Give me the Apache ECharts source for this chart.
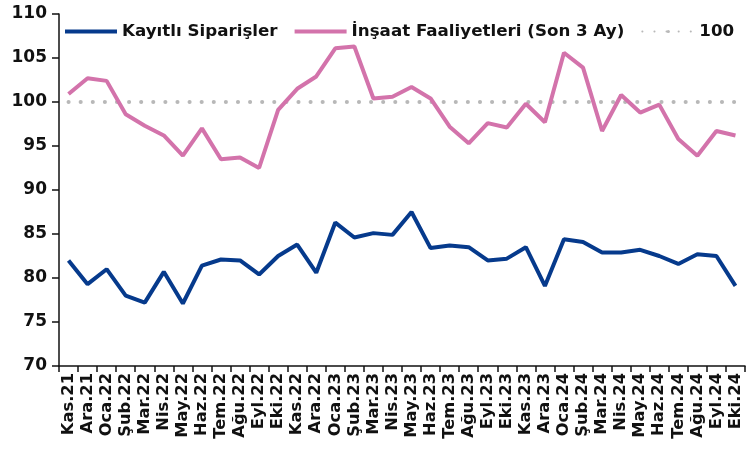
<!DOCTYPE html>
<html><head><meta charset="utf-8">
<script src="https://cdn.jsdelivr.net/npm/echarts@6/dist/echarts.min.js"></script>
<style>html,body{margin:0;padding:0;background:#fff}#c{width:747px;height:450px}</style>
</head><body><div id="c"></div>
<script>
const categories = ["Kas.21","Ara.21","Oca.22","Şub.22","Mar.22","Nis.22","May.22","Haz.22","Tem.22","Ağu.22","Eyl.22","Eki.22","Kas.22","Ara.22","Oca.23","Şub.23","Mar.23","Nis.23","May.23","Haz.23","Tem.23","Ağu.23","Eyl.23","Eki.23","Kas.23","Ara.23","Oca.24","Şub.24","Mar.24","Nis.24","May.24","Haz.24","Tem.24","Ağu.24","Eyl.24","Eki.24"];
const kayitliSiparisler = [82.0,79.3,81.0,78.0,77.2,80.7,77.1,81.4,82.1,82.0,80.4,82.5,83.8,80.6,86.3,84.6,85.1,84.9,87.5,83.4,83.7,83.5,82.0,82.2,83.5,79.1,84.4,84.1,82.9,82.9,83.2,82.5,81.6,82.7,82.5,79.1];
const insaatFaaliyetleri = [100.9,102.7,102.4,98.6,97.3,96.2,93.9,97.0,93.5,93.7,92.5,99.1,101.5,102.9,106.1,106.3,100.4,100.6,101.7,100.4,97.2,95.3,97.6,97.1,99.8,97.7,105.6,103.9,96.7,100.8,98.8,99.7,95.8,93.9,96.7,96.2];
const referans100 = [100,100,100,100,100,100,100,100,100,100,100,100,100,100,100,100,100,100,100,100,100,100,100,100,100,100,100,100,100,100,100,100,100,100,100,100];
const yTicks = {min:70, max:110, interval:5};

const FONT = 'DejaVu Sans';
const chart = echarts.init(document.getElementById('c'));
chart.setOption({
  animation:false,
  textStyle:{fontFamily:FONT},
  legend:{
    top:18, left:60, itemGap:17, itemWidth:52, itemHeight:4,
    textStyle:{fontFamily:FONT, fontWeight:'bold', fontSize:16.7, color:'#111'},
    data:[
      {name:'Kayıtlı Siparişler', icon:'rect'},
      {name:'İnşaat Faaliyetleri (Son 3 Ay)', icon:'rect'},
      {name:'100'}
    ]
  },
  grid:{left:59, right:2, top:14, bottom:84, containLabel:false},
  xAxis:{
    type:'category', data:categories, boundaryGap:true,
    axisLine:{lineStyle:{color:'#111', width:1.5}},
    axisTick:{show:true, alignWithLabel:false, length:6, lineStyle:{color:'#111', width:1.5}},
    axisLabel:{rotate:90, interval:0, fontFamily:FONT, fontWeight:'bold', fontSize:16.3, color:'#111', margin:7}
  },
  yAxis:{
    type:'value', min:yTicks.min, max:yTicks.max, interval:yTicks.interval,
    axisLine:{show:true, lineStyle:{color:'#111', width:1.5}},
    axisTick:{show:true, length:7, lineStyle:{color:'#111', width:1.5}},
    splitLine:{show:false},
    axisLabel:{fontFamily:FONT, fontWeight:'bold', fontSize:17, color:'#111', margin:12}
  },
  series:[
    {name:'Kayıtlı Siparişler', type:'line', data:kayitliSiparisler, symbol:'none',
     lineStyle:{color:'#063a8c', width:4}, itemStyle:{color:'#063a8c'}},
    {name:'İnşaat Faaliyetleri (Son 3 Ay)', type:'line', data:insaatFaaliyetleri, symbol:'none',
     lineStyle:{color:'#d373ab', width:4}, itemStyle:{color:'#d373ab'}},
    {name:'100', type:'line', data:referans100, symbol:'none', z:1,
     lineStyle:{color:'#b8b8b8', width:4, type:[0.1,12], cap:'round'}, itemStyle:{color:'#b8b8b8'}}
  ]
});
</script></body></html>
